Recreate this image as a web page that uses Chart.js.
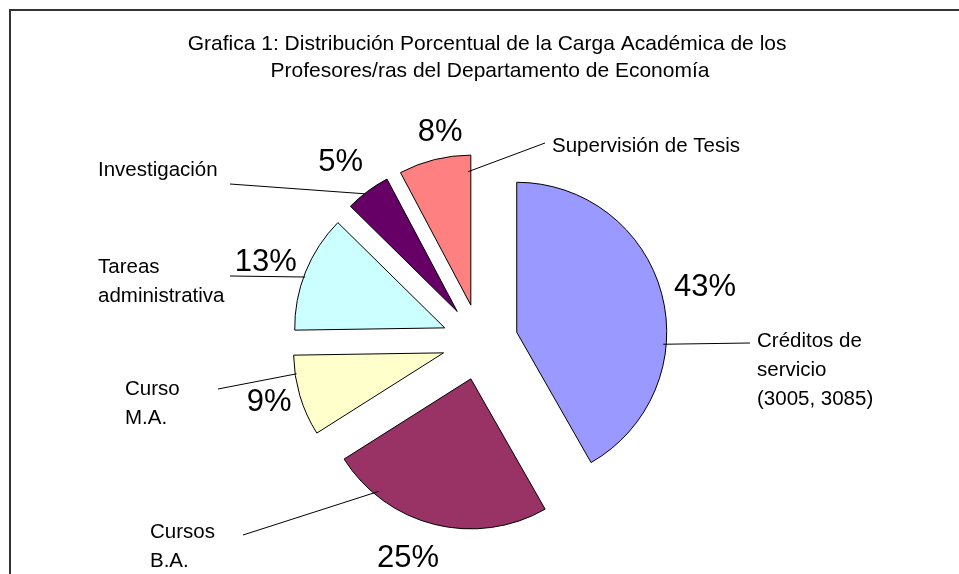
<!DOCTYPE html>
<html lang="es">
<head>
<meta charset="utf-8">
<title>Grafica 1</title>
<script src="https://cdn.jsdelivr.net/npm/chart.js@4.4.1/dist/chart.umd.min.js"></script>
<style>
  html, body { margin: 0; padding: 0; background: #fff; }
  #grafica { display: block; }
</style>
</head>
<body>
<canvas id="grafica" width="959" height="574"></canvas>
<script>
// ── Datos ──
const TITULO = [
  'Grafica 1: Distribución Porcentual de la Carga Académica de los ',
  'Profesores/ras del Departamento de Economía',
];
const categorias = [
  'Créditos de\nservicio\n(3005, 3085)',
  'Cursos\nB.A.',
  'Curso\nM.A.',
  'Tareas\nadministrativa',
  'Investigación',
  'Supervisión de Tesis',
];
const porcentajes = [43, 25, 9, 13, 5, 8];
const colores = ['#9999FF', '#993366', '#FFFFCC', '#CCFFFF', '#660066', '#FF8080'];

// ── Layout (no son datos) ──
const EXPLOSION = 38;   // px que se separa cada porción del centro
const FUENTE = '"Liberation Sans", Arial, sans-serif';
// % : posición sobre la porción (fracción del ángulo, fracción del radio)
const POS_PCT = [
  { f: 0.51, r: 1.29 }, { f: 0.56, r: 1.27 }, { f: 0.52, r: 1.21 },
  { f: 0.46, r: 1.27 }, { f: 0.42, r: 1.26 }, { f: 0.64, r: 1.17 },
];
// líneas guía: punto sobre la porción + extremo del lado del texto
const GUIA = [
  { f: 0.63, r: 0.98, x: 750, y: 343 },
  { f: 0.79, r: 0.97, x: 243, y: 535 },
  { f: 0.77, r: 0.99, x: 218, y: 389 },
  { f: 0.46, r: 0.99, x: 230, y: 276 },
  { f: 0.41, r: 1.00, x: 230, y: 184 },
  { f: 0.96, r: 0.89, x: 545, y: 143 },
];
// nombres: x izquierda, primera línea base
const ROT = [
  { x: 757, y: 347 }, { x: 150, y: 538 }, { x: 125, y: 395 },
  { x: 98, y: 273 }, { x: 98, y: 176 }, { x: 552, y: 152 },
];

// Dibuja cada porción separada del centro (pie "explotado")
const explotar = {
  id: 'explotar',
  beforeDatasetDraw(chart, args) {
    const ctx = chart.ctx;
    args.meta.data.forEach(arc => {
      const mid = (arc.startAngle + arc.endAngle) / 2;
      ctx.save();
      ctx.translate(Math.cos(mid) * EXPLOSION, Math.sin(mid) * EXPLOSION);
      arc.draw(ctx);
      ctx.restore();
    });
    return false;
  },
};

// Marco, título, porcentajes, nombres y líneas guía
const rotulos = {
  id: 'rotulos',
  afterDraw(chart) {
    const ctx = chart.ctx;
    const arcs = chart.getDatasetMeta(0).data;
    ctx.save();
    ctx.strokeStyle = '#333';
    ctx.lineWidth = 2;
    ctx.beginPath();
    ctx.moveTo(10, 574); ctx.lineTo(10, 10); ctx.lineTo(959, 10);
    ctx.stroke();

    ctx.fillStyle = '#000';
    ctx.font = '21px ' + FUENTE;
    ctx.textAlign = 'center';
    ctx.textBaseline = 'alphabetic';
    TITULO.forEach((t, i) => ctx.fillText(t, 490, 50 + i * 27));

    arcs.forEach((arc, i) => {
      const a0 = arc.startAngle, a1 = arc.endAngle, mid = (a0 + a1) / 2;
      const cx = arc.x + Math.cos(mid) * EXPLOSION, cy = arc.y + Math.sin(mid) * EXPLOSION;
      const R = arc.outerRadius;
      const punto = (f, r) => { const a = a0 + (a1 - a0) * f; return [cx + Math.cos(a) * R * r, cy + Math.sin(a) * R * r]; };

      const [px, py] = punto(POS_PCT[i].f, POS_PCT[i].r);
      ctx.font = '31px ' + FUENTE;
      ctx.textAlign = 'center';
      ctx.textBaseline = 'middle';
      ctx.fillText(porcentajes[i] + '%', px, py);

      const g = GUIA[i];
      const [gx, gy] = punto(g.f, g.r);
      ctx.strokeStyle = '#000';
      ctx.lineWidth = 1;
      ctx.beginPath();
      ctx.moveTo(g.x, g.y); ctx.lineTo(gx, gy);
      ctx.stroke();

      ctx.font = '20.5px ' + FUENTE;
      ctx.textAlign = 'left';
      ctx.textBaseline = 'alphabetic';
      categorias[i].split('\n').forEach((l, k) => ctx.fillText(l, ROT[i].x, ROT[i].y + k * 29));
    });
    ctx.restore();
  },
};

new Chart(document.getElementById('grafica'), {
  type: 'pie',
  data: {
    labels: categorias.map(c => c.replace(/\n/g, ' ')),
    datasets: [{
      data: porcentajes,
      backgroundColor: colores,
      borderColor: '#000',
      borderWidth: 1,
      radius: 150,
    }],
  },
  options: {
    responsive: false,
    animation: false,
    events: [],
    layout: { padding: { left: 1, right: 0, top: 110, bottom: 0 } },
    plugins: {
      legend: { display: false },
      tooltip: { enabled: false },
      title: { display: false },
    },
  },
  plugins: [explotar, rotulos],
});
</script>
</body>
</html>
